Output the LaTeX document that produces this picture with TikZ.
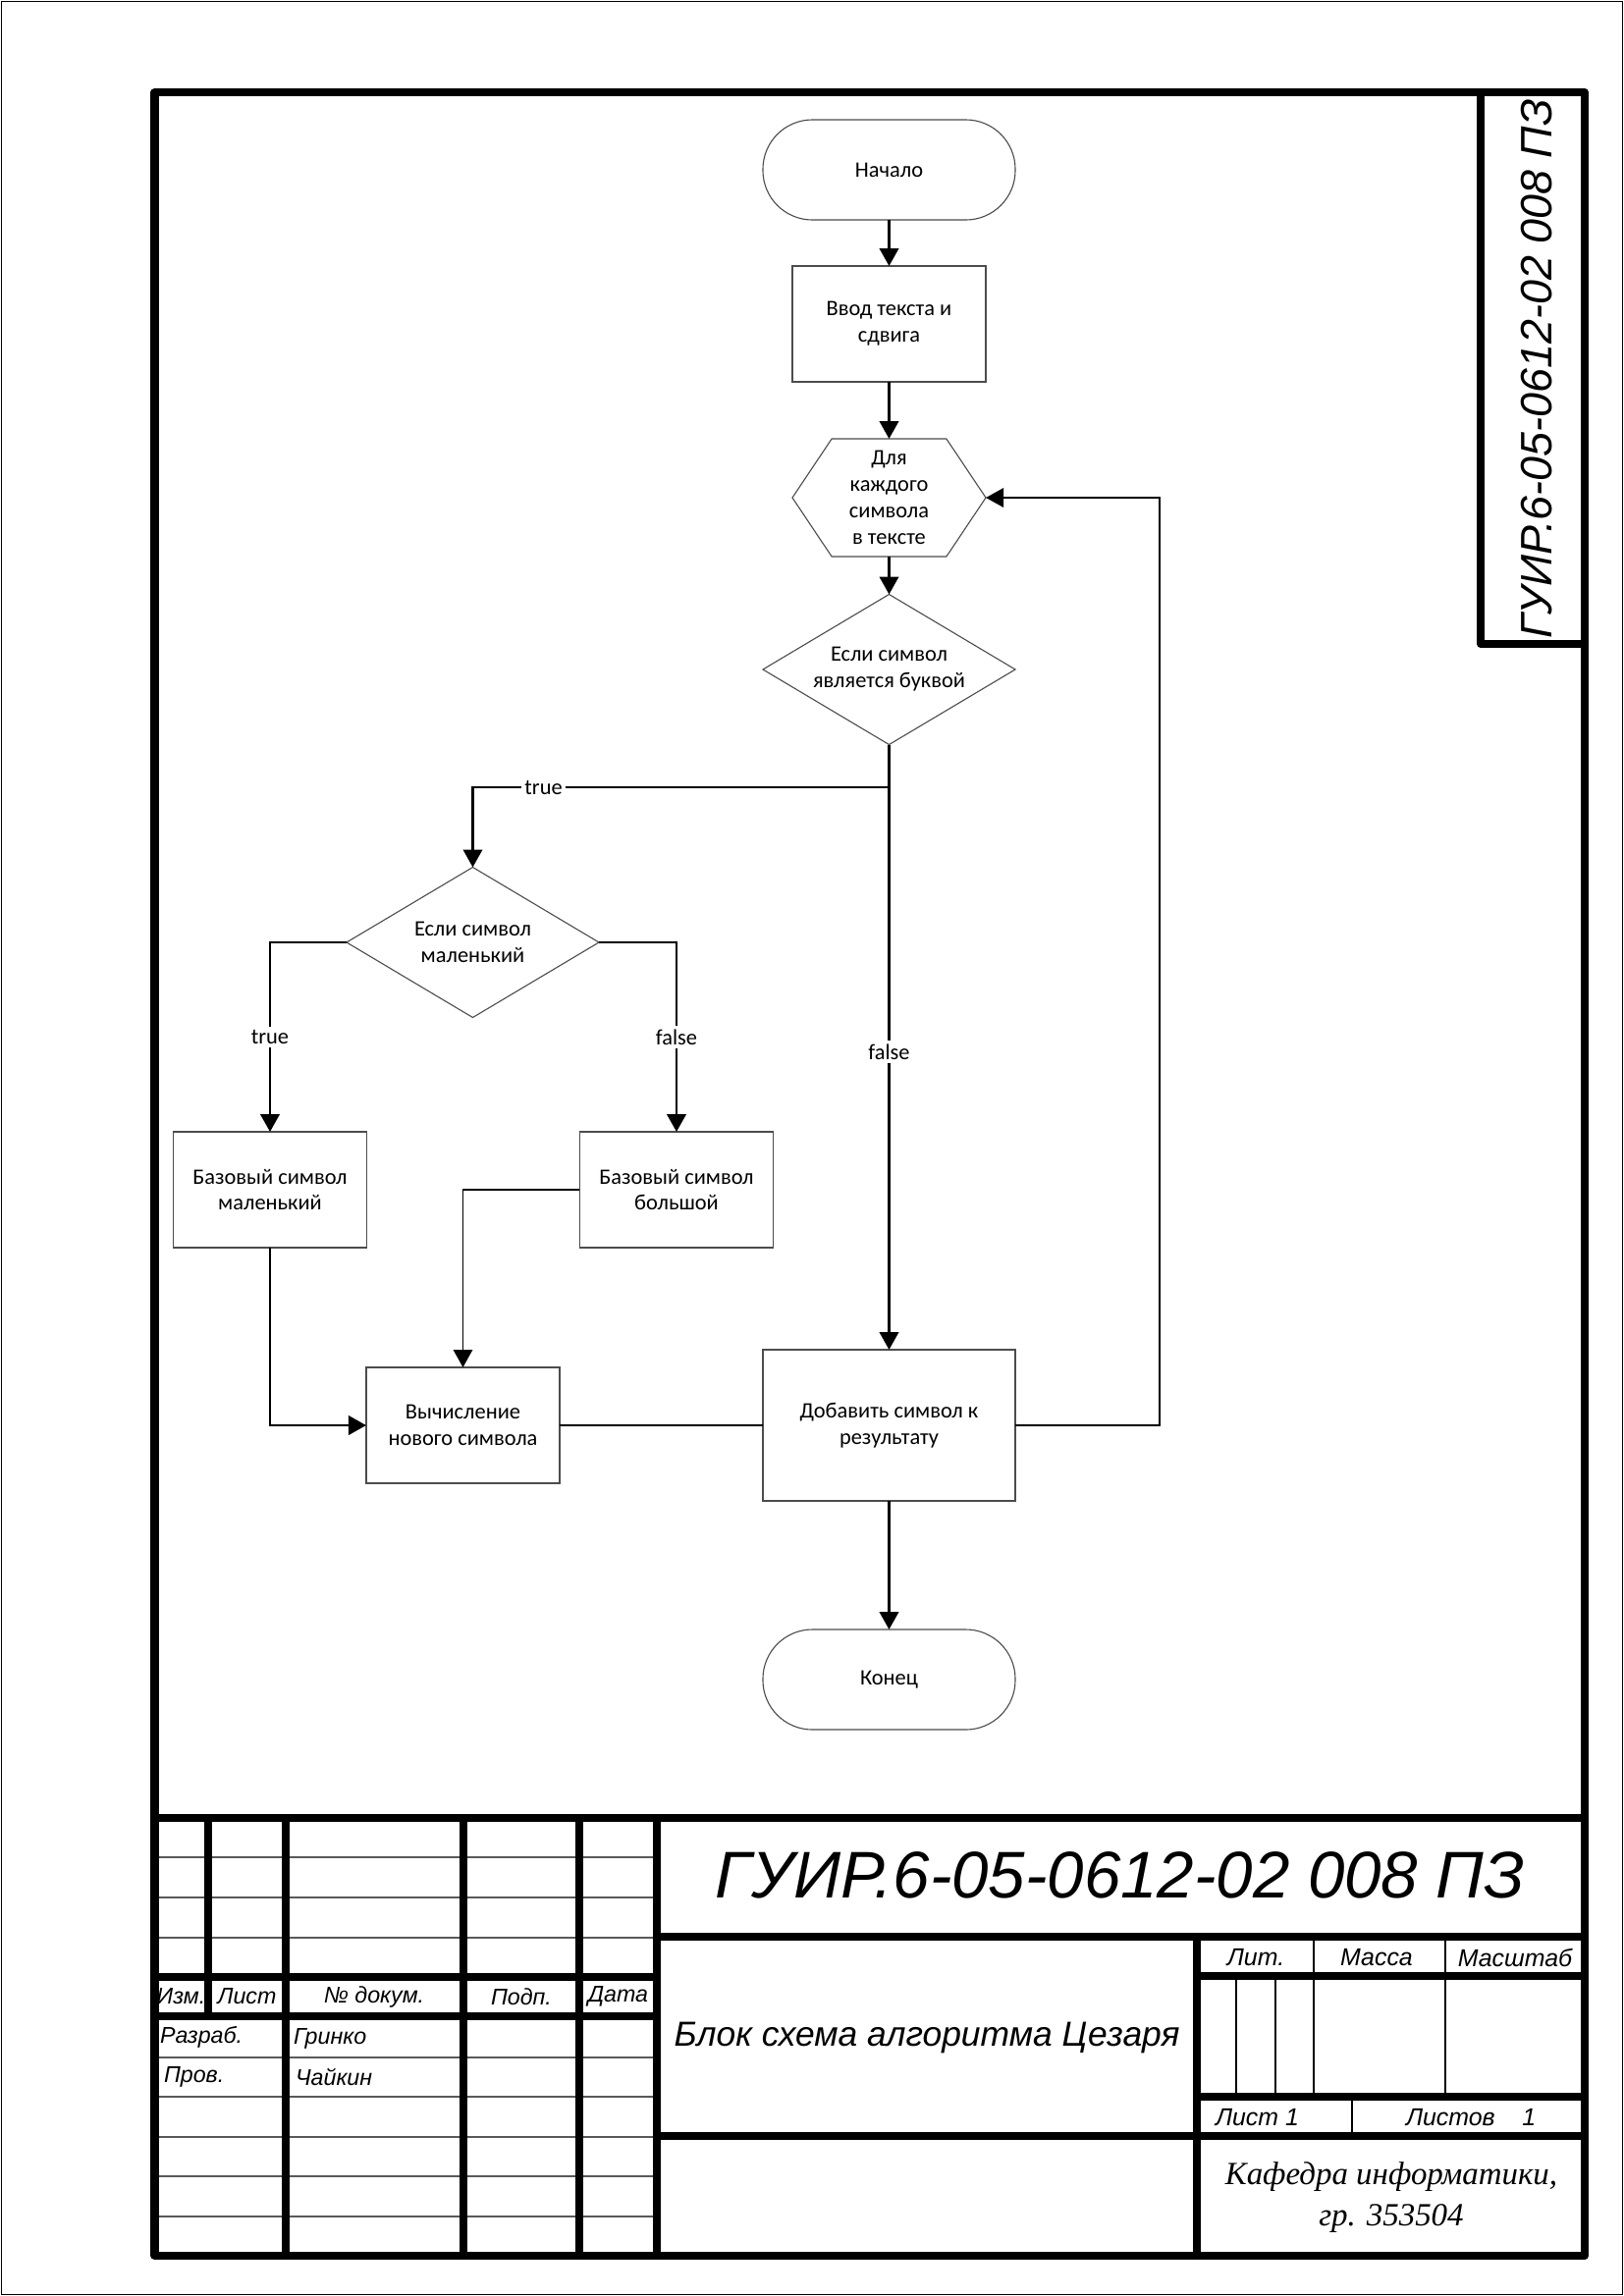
\documentclass[tikz,border=0pt]{standalone}
\usepackage{fontspec}
\setmainfont{Carlito}
\newfontfamily\gostfont{Liberation Sans}
\newfontfamily\deptfont{Liberation Serif}
\usetikzlibrary{arrows.meta}

% outline of a decision rhombus drawn through the anchors of a plain node
\newcommand\drawrhombus[1]{\draw[outline] (#1.north) -- (#1.east) -- (#1.south) -- (#1.west) -- cycle;}
% outline of a loop hexagon drawn through the anchors of a plain node
\newcommand\drawhexagon[1]{\draw[outline] (#1.west) -- ([xshift=14.5pt]#1.north west) -- ([xshift=-14.5pt]#1.north east)
  -- (#1.east) -- ([xshift=-14.5pt]#1.south east) -- ([xshift=14.5pt]#1.south west) -- cycle;}

\begin{document}
\begin{tikzpicture}[x=0.12698mm,y=-0.12698mm,
  every node/.style={inner sep=0pt, outer sep=0pt},
  frameline/.style={line width=2.9pt, line join=round, line cap=round},
  gridline/.style={line width=0.45pt, draw=black!65},
  cellline/.style={line width=0.7pt},
  outline/.style={draw=black!70, line width=0.4pt},
  flow/.style={font=\fontsize{8.1}{9.7}\selectfont, align=center},
  terminal/.style={flow, outline, rectangle, rounded corners=18.2pt, minimum width=92.87pt, minimum height=36.86pt},
  process/.style={flow, outline, rectangle, minimum width=71.19pt, minimum height=42.64pt},
  hexnode/.style={flow, minimum width=71.19pt, minimum height=43.36pt},
  decision/.style={flow, minimum width=92.87pt, minimum height=55.29pt},
  conn/.style={line width=1pt},
  thinconn/.style={line width=0.7pt},
  arrow/.style={conn, -{Triangle[length=6.5pt,width=7pt]}},
  lbl/.style={fill=white, inner sep=1.2pt, font=\fontsize{8.1}{9.7}\selectfont},
  stamp/.style={font=\gostfont\itshape\fontsize{8.4}{9.6}\selectfont},
  stampmid/.style={font=\gostfont\itshape\fontsize{9}{10}\selectfont},
]
\useasboundingbox (0,0) rectangle (1654,2339);

% sheet edge
\draw[line width=0.6pt] (1.5,1.5) rectangle (1652.5,2337.5);

% ---------------- title block: thin rows first ----------------
\foreach \y in {1892,1933,1974,2096,2136,2177,2217,2258}
  \draw[gridline] (157.5,\y) -- (669,\y);
\draw[cellline] (1338,1973) -- (1338,2136);
\draw[cellline] (1472,1973) -- (1472,2136);
\draw[cellline] (1259,2013) -- (1259,2136);
\draw[cellline] (1299,2013) -- (1299,2136);
\draw[cellline] (1377,2136) -- (1377,2176);

% ---------------- heavy lines ----------------
\draw[frameline] (157.5,94) rectangle (1614,2298);
\draw[frameline] (1508,94) -- (1508,656) -- (1614,656);
\draw[frameline] (157.5,1852) -- (1614,1852);
\draw[frameline] (212,1852) -- (212,2054);
\foreach \x in {291,472,590,669}
  \draw[frameline] (\x,1852) -- (\x,2298);
\draw[frameline] (157.5,2014) -- (669,2014);
\draw[frameline] (157.5,2054) -- (669,2054);
\draw[frameline] (669,1973) -- (1614,1973);
\draw[frameline] (1219,1973) -- (1219,2298);
\draw[frameline] (669,2176) -- (1614,2176);
\draw[frameline] (1219,2013) -- (1614,2013);
\draw[frameline] (1219,2136) -- (1614,2136);

% ---------------- title block texts ----------------
\node[font=\gostfont\itshape\fontsize{16.2}{18}\selectfont, rotate=90, anchor=base] (sidecode) at (1580,376) {ГУИР.6-05-0612-02 008 ПЗ};
\node[font=\gostfont\itshape\fontsize{24.3}{28}\selectfont, anchor=base] (code) at (1141,1933) {ГУИР.6-05-0612-02 008 ПЗ};
\node[font=\gostfont\itshape\fontsize{12.8}{15}\selectfont] (title) at (944,2076) {Блок схема алгоритма Цезаря};
\node[font=\deptfont\itshape\fontsize{11.9}{15.2}\selectfont, align=center] (dept) at (1417,2239) {Кафедра информатики,\\гр. 353504};

\node[stamp] (h1) at (184.5,2034) {Изм.};
\node[stamp] (h2) at (251.5,2034) {Лист};
\node[stamp] (h3) at (381,2034) {№ докум.};
\node[stamp] (h4) at (531,2034) {Подп.};
\node[stamp] (h5) at (629.5,2034) {Дата};
\node[stamp, anchor=west] (r1) at (163,2075) {Разраб.};
\node[stamp, anchor=west] (n1) at (299,2077) {Гринко};
\node[stamp, anchor=west] (r2) at (167,2116) {Пров.};
\node[stamp, anchor=west] (n2) at (301,2116) {Чайкин};

\node[stampmid] (lit) at (1279,1994) {Лит.};
\node[stampmid] (mass) at (1402,1994) {Масса};
\node[stampmid] (scale) at (1543,1994) {Масштаб};
\node[stampmid, anchor=west] (sheet) at (1238,2157) {Лист 1};
\node[stampmid, anchor=west] (sheets) at (1432,2157) {Листов\hspace{10pt}1};

% ---------------- flowchart ----------------
\node[terminal] (start) at (905.5,173) {Начало};
\node[process] (input) at (905.5,330) {Ввод текста и\\сдвига};
\node[hexnode] (loop) at (905.5,507) {Для\\каждого\\символа\\в тексте};
\drawhexagon{loop}
\node[decision] (isletter) at (905.5,682) {Если символ\\является буквой};
\drawrhombus{isletter}
\node[decision] (islower) at (481.5,960) {Если символ\\маленький};
\drawrhombus{islower}
\node[process] (baselow) at (275,1212) {Базовый символ\\маленький};
\node[process] (baseup) at (689,1212) {Базовый символ\\большой};
\node[process] (shift) at (471.5,1452) {Вычисление\\нового символа};
\node[process, minimum width=92.87pt, minimum height=55.65pt] (append) at (905.5,1452) {Добавить символ к\\результату};
\node[terminal] (stop) at (905.5,1711) {Конец};

\coordinate (split) at (905.5,802);
\coordinate (back) at (1181,1452);

\draw[arrow] (start.south) -- (input.north);
\draw[arrow] (input.south) -- (loop.north);
\draw[arrow] (loop.south) -- (isletter.north);
\draw[conn] (isletter.south) -- (split);
\draw[arrow] (split) -| node[lbl, pos=0.415] {true} (islower.north);
\draw[arrow] (split) -- node[lbl, pos=0.47] {false} (append.north);
\draw[arrow] (islower.west) -| node[lbl, pos=0.75] {true} (baselow.north);
\draw[arrow] (islower.east) -| node[lbl, pos=0.75] {false} (baseup.north);
\draw[arrow] (baselow.south) |- (shift.west);
\draw[arrow, thinconn] (baseup.west) -| (shift.north);
\draw[thinconn] (shift.east) -- (append.west);
\draw[arrow] (append.south) -- (stop.north);
\draw[arrow, thinconn] (append.east) -- (back) |- (loop.east);
\end{tikzpicture}
\end{document}
